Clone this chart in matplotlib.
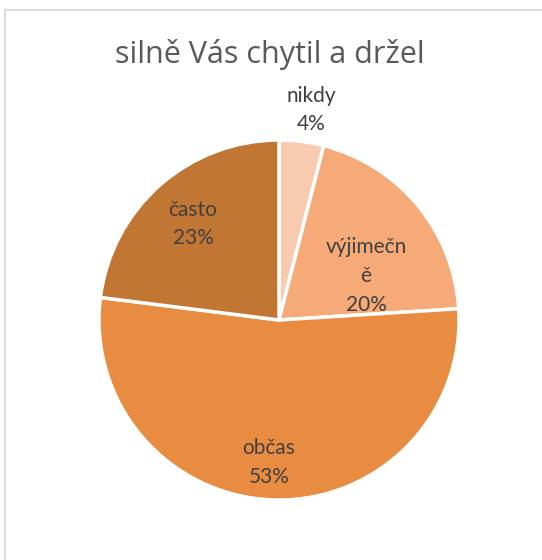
import matplotlib
matplotlib.use("Agg")
import matplotlib.pyplot as plt
from matplotlib.lines import Line2D

categories = ["nikdy", "výjimečně", "občas", "často"]
label_texts = ["nikdy", "výjimečn\ně", "občas", "často"]
values = [4, 20, 53, 23]
colors = ["#F8CBB0", "#F5AA78", "#E88C41", "#C27634"]
title = "silně Vás chytil a držel"

plt.rcParams['font.family'] = ['Open Sans', 'DejaVu Sans']

W, H = 542, 560
fig = plt.figure(figsize=(W / 100, H / 100), dpi=100)
fig.patch.set_facecolor("white")

# chart frame (left and top edges visible)
fig.add_artist(Line2D([5 / W, 5 / W], [0, 1 - 10 / H], transform=fig.transFigure,
                      color="#D9D9D9", lw=1.3))
fig.add_artist(Line2D([5 / W, 1], [1 - 10 / H, 1 - 10 / H], transform=fig.transFigure,
                      color="#D9D9D9", lw=1.3))

cx, cy, r = 279, 320, 180
ax = fig.add_axes([(cx - r) / W, (H - cy - r) / H, 2 * r / W, 2 * r / H])
wedges, _ = ax.pie(values, colors=colors, startangle=90, counterclock=False,
                   radius=1.0, wedgeprops=dict(edgecolor="white", linewidth=2.5))
ax.set_xlim(-1, 1)
ax.set_ylim(-1, 1)
ax.set_aspect("equal")
ax.axis("off")
for w in wedges:
    w.set_clip_on(False)

label_pos = [(0.178, 1.167), (0.483, 0.244), (-0.056, -0.79), (-0.478, 0.533)]
total = sum(values)
for txt, v, (x, y) in zip(label_texts, values, label_pos):
    ax.text(x, y, f"{txt}\n{round(100 * v / total)}%", ha="center", va="center",
            fontsize=15, color="#404040", linespacing=1.55,
            family=['Lato', 'DejaVu Sans'])

fig.text(270 / W, 1 - 55 / H, title, ha="center", va="center",
         fontsize=22, color="#595959")

fig.savefig("out.png", dpi=100, facecolor="white")
